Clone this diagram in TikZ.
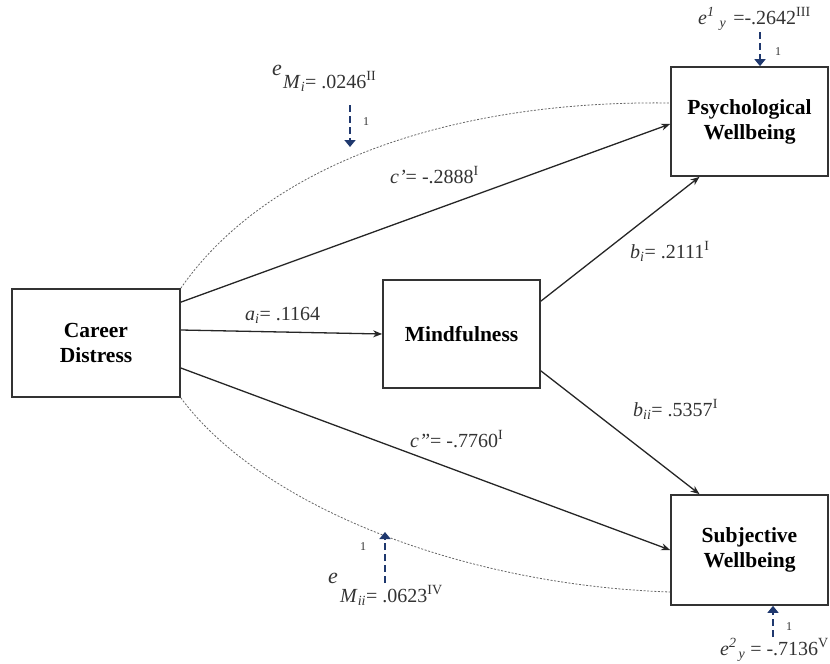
\documentclass[tikz,border=0pt]{standalone}
\usepackage{fontspec}
\setmainfont{Liberation Serif}
\usetikzlibrary{arrows.meta}
\definecolor{navy}{RGB}{31,56,110}
\begin{document}
\begin{tikzpicture}[x=1pt,y=-1pt,
 box/.style={draw=black!80, line width=1.7pt, fill=white, inner sep=0pt, font=\fontsize{21.5}{25}\selectfont\bfseries, align=center},
 pathar/.style={line width=1.3pt, draw=black!85, -{Stealth[length=9pt,width=7pt]}},
 cov/.style={draw=black!60, dash pattern=on 2pt off 1.6pt, line width=0.8pt},
 err/.style={draw=navy, line width=2.2pt, dash pattern=on 7pt off 4pt, -{Triangle[length=7pt,width=11pt]}},
 lab/.style={font=\fontsize{20}{24}\selectfont, text=black!80, inner sep=0pt, anchor=base west},
 bige/.style={font=\fontsize{22}{26}\selectfont\itshape, text=black!80, inner sep=0pt, anchor=base west},
 one/.style={font=\fontsize{12}{14}\selectfont, text=black!80, inner sep=0pt}]
\useasboundingbox (0,0) rectangle (830,664);

% boxes
\node[box, minimum width=168pt, minimum height=108pt] (cd) at (96,343) {Career\\Distress};
\node[box, minimum width=157pt, minimum height=108pt] (mf) at (461.5,334) {Mindfulness};
\node[box, minimum width=157pt, minimum height=109pt] (pw) at (749.5,121.5) {Psychological\\Wellbeing};
\node[box, minimum width=157pt, minimum height=110pt] (sw) at (749.5,550) {Subjective\\Wellbeing};

% covariance curves
\draw[cov] (cd.north east) .. controls (270,160) and (460,100) .. ([yshift=18.5pt]pw.west);
\draw[cov] (cd.south east) .. controls (260,505) and (460,585) .. ([yshift=-42pt]sw.west);

% paths
\draw[pathar] ([yshift=-14pt]cd.north east) -- ([yshift=-2.5pt]pw.west);
\draw[pathar] ([yshift=13pt]cd.east) -- (mf.west);
\draw[pathar] ([yshift=-25pt]cd.east) -- (sw.west);
\draw[pathar] ([yshift=-22pt]mf.north east) -- ([xshift=-50pt]pw.south);
\draw[pathar] ([yshift=18pt]mf.south east) -- ([xshift=-50pt]sw.north);

% path labels
\node[lab] (lc1) at (390,183) {\textit{c'}= -.2888\textsuperscript{I}};
\node[lab] (la) at (245,320) {\textit{a}\textsubscript{\textit{i}}= .1164};
\node[lab] (lb1) at (630,258) {\textit{b}\textsubscript{\textit{i}}= .2111\textsuperscript{I}};
\node[lab] (lb2) at (633,416) {\textit{b}\textsubscript{\textit{ii}}= .5357\textsuperscript{I}};
\node[lab] (lc2) at (410,447) {\textit{c''}= -.7760\textsuperscript{I}};

% error terms
\node[bige] (emie) at (272,75) {e};
\node[lab] (emi) at (283,88) {\textit{M}\textsubscript{\textit{i}}= .0246\textsuperscript{II}};
\coordinate (emis) at (350,105);
\coordinate (emit) at (350,147);
\draw[err] (emis) -- (emit);
\node[one] (emi1) at (366,122) {1};

\node[lab] (e1y) at (698,24) {\textit{e}\textsuperscript{\textit{1}}\hspace{5pt}\textsubscript{\textit{y}}\hspace{7pt}=-.2642\textsuperscript{III}};
\coordinate (e1ys) at (760,32);
\draw[err] (e1ys) -- ([xshift=10.5pt]pw.north);
\node[one] (e1y1) at (778,52) {1};

\node[bige] (emiie) at (328,583) {e};
\node[lab] (emii) at (340,602) {\textit{M}\textsubscript{\textit{ii}}= .0623\textsuperscript{IV}};
\coordinate (emiis) at (385,583);
\coordinate (emiit) at (385,532);
\draw[err] (emiis) -- (emiit);
\node[one] (emii1) at (363,547) {1};

\node[lab] (e2y) at (720,655) {\textit{e}\textsuperscript{\textit{2}}\hspace{2pt}\textsubscript{\textit{y}} = -.7136\textsuperscript{V}};
\coordinate (e2ys) at (773,637);
\draw[err] (e2ys) -- ([xshift=23.5pt]sw.south);
\node[one] (e2y1) at (789,627) {1};
\end{tikzpicture}
\end{document}
